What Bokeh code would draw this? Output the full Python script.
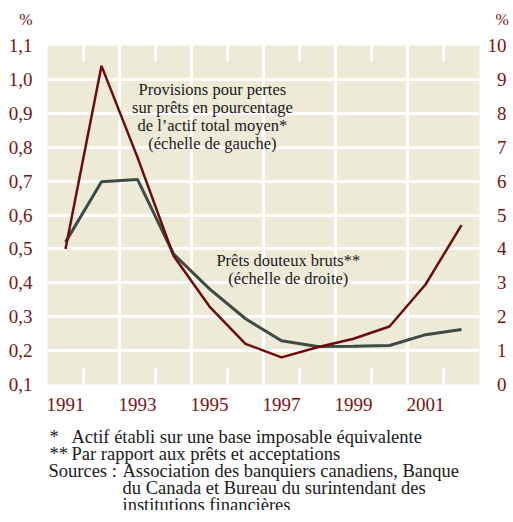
import math
from bokeh.plotting import figure
from bokeh.layouts import column
from bokeh.models import Range1d, LinearAxis, FixedTicker, CustomJSTickFormatter, Label
from bokeh.core.properties import value
from bokeh.embed import file_html
from bokeh.resources import INLINE

# ---- data ----
years = [1991, 1992, 1993, 1994, 1995, 1996, 1997, 1998, 1999, 2000, 2001, 2002]
provisions = [0.50, 1.04, 0.77, 0.48, 0.33, 0.22, 0.18, 0.21, 0.235, 0.271, 0.395, 0.57]   # left scale, %
douteux = [4.2, 5.98, 6.05, 3.85, 2.82, 1.94, 1.29, 1.12, 1.13, 1.15, 1.47, 1.62]           # right scale, %

label_years = [1991, 1993, 1995, 1997, 1999, 2001]
tick_marks = [1991.5, 1993.5, 1995.5, 1997.5, 1999.5, 2001.5]
grid_years = [1992.5, 1994.5, 1996.5, 1998.5, 2000.5]
left_ticks = [0.1, 0.2, 0.3, 0.4, 0.5, 0.6, 0.7, 0.8, 0.9, 1.0, 1.1]
left_grid = [0.2, 0.3, 0.4, 0.5, 0.6, 0.7, 0.8, 0.9, 1.0]
right_ticks = [0, 1, 2, 3, 4, 5, 6, 7, 8, 9, 10]
unit_label = "%"

note1 = ["Provisions pour pertes", "sur prêts en pourcentage",
         "de l\u2019actif total moyen*", "(échelle de gauche)"]
note2 = ["Prêts douteux bruts**", "(échelle de droite)"]
foot_marks = ["*", "**", "Sources :"]
foot_texts = ["Actif établi sur une base imposable équivalente",
              "Par rapport aux prêts et acceptations",
              "Association des banquiers canadiens, Banque",
              "du Canada et Bureau du surintendant des",
              "institutions financières"]

RED = "#6E0B0B"
GRAY = "#3D4A46"
BG = "#EEEAD8"
TICK = "#7A1414"
INK = "#1A1A1A"
FONT = "Liberation Serif"
TXT = "16.5px"
FOOT_TXT = "18.5px"

FW = 432
BL, BR = 47, 25


def bare_axis(ax):
    ax.axis_line_color = None
    ax.major_tick_line_color = None
    ax.minor_tick_line_color = None
    ax.major_tick_in = 0
    ax.major_tick_out = 0
    ax.minor_tick_in = 0
    ax.minor_tick_out = 0


# ---- top strip: the two "%" unit labels as horizontal axis titles ----
top = figure(frame_width=FW, frame_height=22, output_backend="svg", toolbar_location=None,
             x_range=Range1d(0, 1), y_range=Range1d(0, 1), x_axis_location=None,
             min_border_left=BL, min_border_right=BR, min_border_top=8, min_border_bottom=0,
             outline_line_color=None, background_fill_color="white")
top.grid.visible = False
top_right = LinearAxis()
top.add_layout(top_right, "right")
for ax, so in ((top.yaxis[0], 15), (top_right, 16)):
    bare_axis(ax)
    ax.ticker = FixedTicker(ticks=[])
    ax.major_label_text_font_size = "0px"
    ax.major_label_standoff = 0
    ax.axis_label = unit_label
    ax.axis_label_orientation = "horizontal"
    ax.axis_label_standoff = so
    ax.axis_label_text_font = FONT
    ax.axis_label_text_font_style = "normal"
    ax.axis_label_text_font_size = "16px"
    ax.axis_label_text_color = TICK

# ---- main chart ----
p = figure(frame_width=FW, frame_height=339, output_backend="svg", toolbar_location=None,
           x_range=Range1d(1990.5, 2002.5), y_range=Range1d(0.1, 1.1),
           min_border_left=BL, min_border_right=BR, min_border_top=15, min_border_bottom=36,
           background_fill_color=BG, border_fill_color="white", outline_line_color=None)
p.extra_y_ranges = {"right": Range1d(0, 10)}

p.xgrid.ticker = FixedTicker(ticks=grid_years)
p.xgrid.grid_line_color = "white"
p.xgrid.grid_line_width = 3
p.ygrid.ticker = FixedTicker(ticks=left_grid)
p.ygrid.grid_line_color = "white"
p.ygrid.grid_line_width = 3

xa = p.xaxis[0]
bare_axis(xa)
xa.ticker = FixedTicker(ticks=label_years)
xa.major_label_text_font = FONT
xa.major_label_text_font_size = "19px"
xa.major_label_text_color = TICK
xa.major_label_standoff = 13

ly = p.yaxis[0]
bare_axis(ly)
ly.ticker = FixedTicker(ticks=left_ticks)
ly.formatter = CustomJSTickFormatter(code="return tick.toFixed(1).replace('.', ',')")
ly.major_label_standoff = 15
ly.major_label_text_font = FONT
ly.major_label_text_font_size = "19px"
ly.major_label_text_color = TICK

ry = LinearAxis(y_range_name="right", ticker=FixedTicker(ticks=right_ticks))
bare_axis(ry)
ry.formatter = CustomJSTickFormatter(code="return (tick < 10 ? '\\u2007' : '') + tick.toFixed(0)")
ry.major_label_standoff = 8
ry.major_label_text_font = FONT
ry.major_label_text_font_size = "19px"
ry.major_label_text_color = TICK
p.add_layout(ry, "right")

# short white tick stubs at the frame's top and bottom edges (half clipped by the frame)
p.scatter(x=tick_marks, y=[left_ticks[0]] * len(tick_marks), marker="dash", size=32,
          angle=math.pi / 2, line_color="white", line_width=3, level="underlay")
p.scatter(x=tick_marks, y=[left_ticks[-1]] * len(tick_marks), marker="dash", size=32,
          angle=math.pi / 2, line_color="white", line_width=3, level="underlay")

# series
p.line(years, douteux, y_range_name="right", line_color=GRAY, line_width=3)
p.line(years, provisions, line_color=RED, line_width=2.5)

# in-plot annotations
for i, t in enumerate(note1):
    p.add_layout(Label(x=1995.08, y=0.97, y_offset=-18 * i, text=t,
                       text_align="center", text_baseline="alphabetic",
                       text_font=FONT, text_font_size=TXT, text_color=INK))
for i, t in enumerate(note2):
    p.add_layout(Label(x=1997.19, y=0.466, y_offset=-18 * i, text=t,
                       text_align="center", text_baseline="alphabetic",
                       text_font=FONT, text_font_size=TXT, text_color=INK))

# ---- footnotes (x in page pixels: frame spans 48..480) ----
foot = figure(frame_width=FW, frame_height=90, output_backend="svg", toolbar_location=None,
              x_range=Range1d(48, 480), y_range=Range1d(90, 0),
              x_axis_location=None, y_axis_location=None,
              min_border_left=BL, min_border_right=BR, min_border_top=0, min_border_bottom=0,
              outline_line_color=None, background_fill_color="white")
foot.grid.visible = False
foot.text(x=[50, 50, 49], y=[16, 33, 50], text=foot_marks,
          text_align="left", text_baseline="alphabetic",
          text_font=value(FONT), text_font_size=FOOT_TXT, text_color=INK)
foot.text(x=[72, 72, 123, 123, 123], y=[16, 33, 50, 67, 84], text=foot_texts,
          text_align="left", text_baseline="alphabetic",
          text_font=value(FONT), text_font_size=FOOT_TXT, text_color=INK)

layout = column(top, p, foot, spacing=0)
open("out.html", "w").write(file_html(layout, INLINE))
